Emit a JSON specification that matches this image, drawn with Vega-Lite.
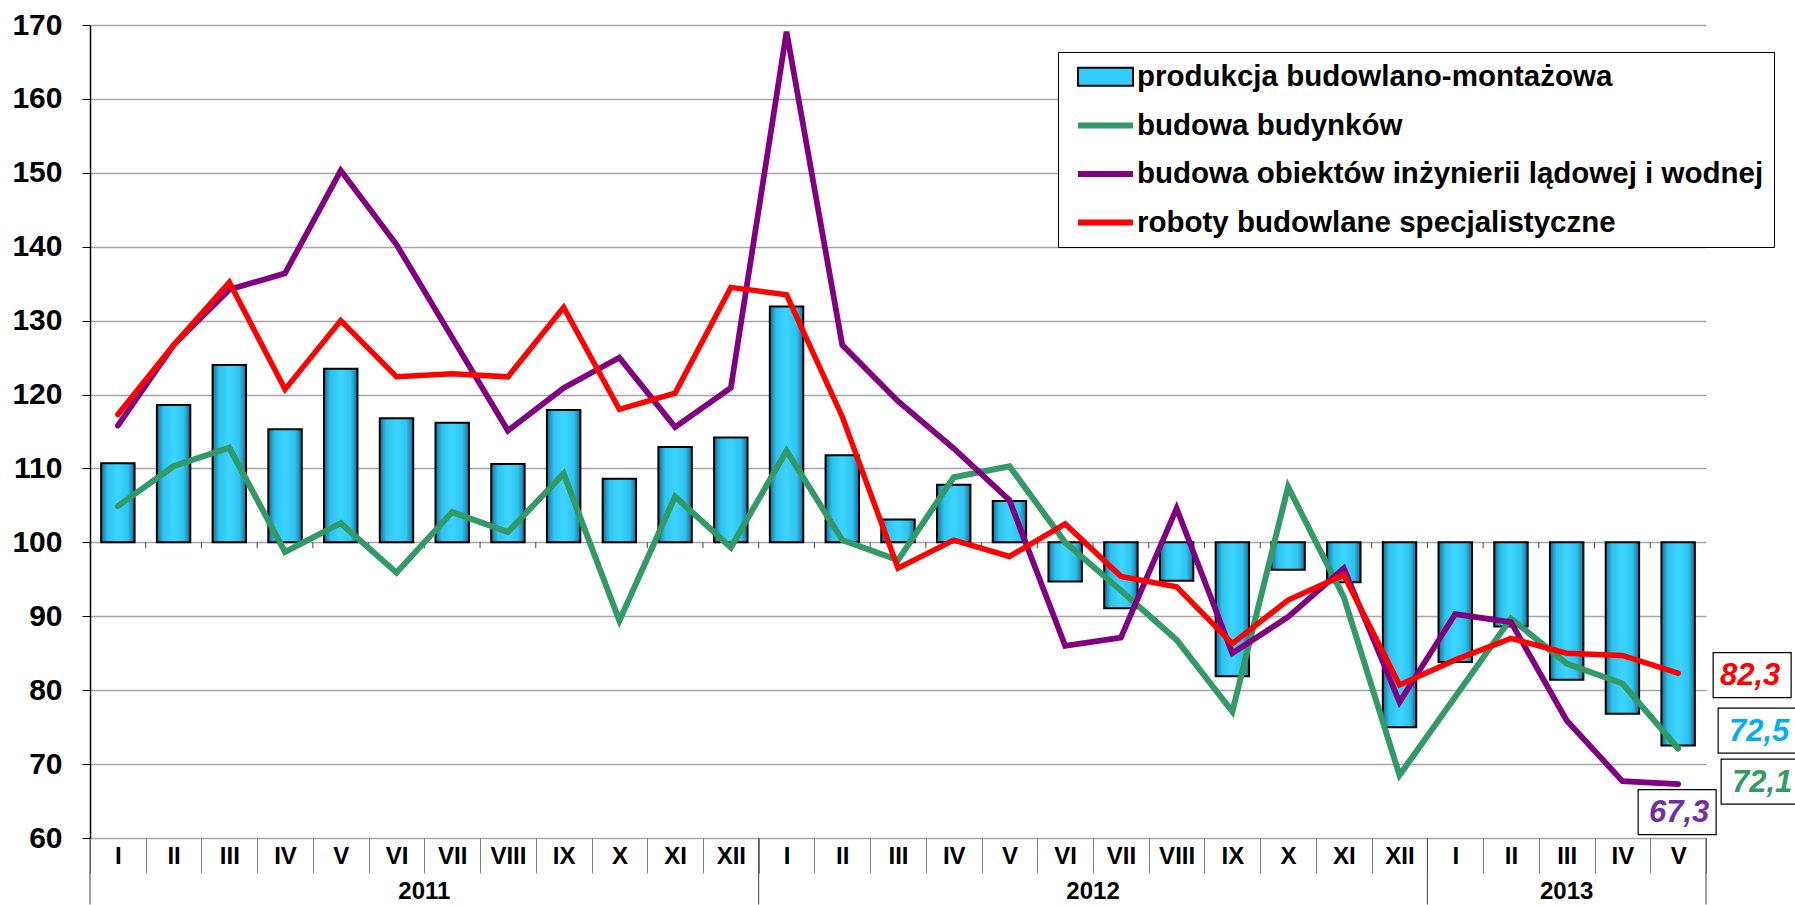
{
  "$schema": "https://vega.github.io/schema/vega-lite/v6.json",
  "width": 1616,
  "height": 813,
  "autosize": {"type": "none"},
  "padding": {"left": 90, "top": 25, "right": 89, "bottom": 67},
  "background": "white",
  "config": {"view": {"stroke": null}, "font": "Liberation Sans"},
  "datasets": {
    "main": [
      {"key": "I 2011", "produkcja budowlano-montażowa": 110.7, "budowa budynków": 104.9, "budowa obiektów inżynierii lądowej i wodnej": 115.8, "roboty budowlane specjalistyczne": 117.3},
      {"key": "II 2011", "produkcja budowlano-montażowa": 118.6, "budowa budynków": 110.3, "budowa obiektów inżynierii lądowej i wodnej": 126.7, "roboty budowlane specjalistyczne": 126.7},
      {"key": "III 2011", "produkcja budowlano-montażowa": 124.0, "budowa budynków": 112.8, "budowa obiektów inżynierii lądowej i wodnej": 134.2, "roboty budowlane specjalistyczne": 135.2},
      {"key": "IV 2011", "produkcja budowlano-montażowa": 115.3, "budowa budynków": 98.7, "budowa obiektów inżynierii lądowej i wodnej": 136.4, "roboty budowlane specjalistyczne": 120.7},
      {"key": "V 2011", "produkcja budowlano-montażowa": 123.5, "budowa budynków": 102.6, "budowa obiektów inżynierii lądowej i wodnej": 150.3, "roboty budowlane specjalistyczne": 130.0},
      {"key": "VI 2011", "produkcja budowlano-montażowa": 116.8, "budowa budynków": 95.9, "budowa obiektów inżynierii lądowej i wodnej": 140.3, "roboty budowlane specjalistyczne": 122.4},
      {"key": "VII 2011", "produkcja budowlano-montażowa": 116.2, "budowa budynków": 104.1, "budowa obiektów inżynierii lądowej i wodnej": 127.7, "roboty budowlane specjalistyczne": 122.8},
      {"key": "VIII 2011", "produkcja budowlano-montażowa": 110.6, "budowa budynków": 101.4, "budowa obiektów inżynierii lądowej i wodnej": 115.1, "roboty budowlane specjalistyczne": 122.4},
      {"key": "IX 2011", "produkcja budowlano-montażowa": 117.9, "budowa budynków": 109.3, "budowa obiektów inżynierii lądowej i wodnej": 120.9, "roboty budowlane specjalistyczne": 131.8},
      {"key": "X 2011", "produkcja budowlano-montażowa": 108.6, "budowa budynków": 89.4, "budowa obiektów inżynierii lądowej i wodnej": 125.0, "roboty budowlane specjalistyczne": 118.0},
      {"key": "XI 2011", "produkcja budowlano-montażowa": 112.9, "budowa budynków": 106.2, "budowa obiektów inżynierii lądowej i wodnej": 115.6, "roboty budowlane specjalistyczne": 120.2},
      {"key": "XII 2011", "produkcja budowlano-montażowa": 114.2, "budowa budynków": 99.3, "budowa obiektów inżynierii lądowej i wodnej": 120.9, "roboty budowlane specjalistyczne": 134.5},
      {"key": "I 2012", "produkcja budowlano-montażowa": 131.9, "budowa budynków": 112.4, "budowa obiektów inżynierii lądowej i wodnej": 169.1, "roboty budowlane specjalistyczne": 133.5},
      {"key": "II 2012", "produkcja budowlano-montażowa": 111.8, "budowa budynków": 100.3, "budowa obiektów inżynierii lądowej i wodnej": 126.7, "roboty budowlane specjalistyczne": 117.0},
      {"key": "III 2012", "produkcja budowlano-montażowa": 103.1, "budowa budynków": 97.6, "budowa obiektów inżynierii lądowej i wodnej": 119.1, "roboty budowlane specjalistyczne": 96.5},
      {"key": "IV 2012", "produkcja budowlano-montażowa": 107.8, "budowa budynków": 108.8, "budowa obiektów inżynierii lądowej i wodnej": 112.7, "roboty budowlane specjalistyczne": 100.3},
      {"key": "V 2012", "produkcja budowlano-montażowa": 105.6, "budowa budynków": 110.3, "budowa obiektów inżynierii lądowej i wodnej": 105.7, "roboty budowlane specjalistyczne": 98.1},
      {"key": "VI 2012", "produkcja budowlano-montażowa": 94.7, "budowa budynków": 100.0, "budowa obiektów inżynierii lądowej i wodnej": 86.0, "roboty budowlane specjalistyczne": 102.5},
      {"key": "VII 2012", "produkcja budowlano-montażowa": 91.1, "budowa budynków": 93.5, "budowa obiektów inżynierii lądowej i wodnej": 87.1, "roboty budowlane specjalistyczne": 95.4},
      {"key": "VIII 2012", "produkcja budowlano-montażowa": 94.8, "budowa budynków": 86.8, "budowa obiektów inżynierii lądowej i wodnej": 104.6, "roboty budowlane specjalistyczne": 94.0},
      {"key": "IX 2012", "produkcja budowlano-montażowa": 81.9, "budowa budynków": 77.1, "budowa obiektów inżynierii lądowej i wodnej": 85.0, "roboty budowlane specjalistyczne": 86.3},
      {"key": "X 2012", "produkcja budowlano-montażowa": 96.3, "budowa budynków": 107.5, "budowa obiektów inżynierii lądowej i wodnej": 89.9, "roboty budowlane specjalistyczne": 92.2},
      {"key": "XI 2012", "produkcja budowlano-montażowa": 94.6, "budowa budynków": 92.6, "budowa obiektów inżynierii lądowej i wodnej": 96.5, "roboty budowlane specjalistyczne": 95.6},
      {"key": "XII 2012", "produkcja budowlano-montażowa": 75.0, "budowa budynków": 68.5, "budowa obiektów inżynierii lądowej i wodnej": 78.4, "roboty budowlane specjalistyczne": 80.7},
      {"key": "I 2013", "produkcja budowlano-montażowa": 83.8, "budowa budynków": 79.1, "budowa obiektów inżynierii lądowej i wodnej": 90.3, "roboty budowlane specjalistyczne": 84.1},
      {"key": "II 2013", "produkcja budowlano-montażowa": 88.6, "budowa budynków": 89.7, "budowa obiektów inżynierii lądowej i wodnej": 89.2, "roboty budowlane specjalistyczne": 87.0},
      {"key": "III 2013", "produkcja budowlano-montażowa": 81.4, "budowa budynków": 83.6, "budowa obiektów inżynierii lądowej i wodnej": 75.9, "roboty budowlane specjalistyczne": 85.0},
      {"key": "IV 2013", "produkcja budowlano-montażowa": 76.8, "budowa budynków": 80.9, "budowa obiektów inżynierii lądowej i wodnej": 67.7, "roboty budowlane specjalistyczne": 84.7},
      {"key": "V 2013", "produkcja budowlano-montażowa": 72.5, "budowa budynków": 72.1, "budowa obiektów inżynierii lądowej i wodnej": 67.3, "roboty budowlane specjalistyczne": 82.3}
    ],
    "years": [
      {"key": "VI 2011", "year": "2011"},
      {"key": "VI 2012", "year": "2012"},
      {"key": "III 2013", "year": "2013"}
    ],
    "bounds": [
      {"key": "I 2011", "edge": "start"},
      {"key": "I 2012", "edge": "start"},
      {"key": "I 2013", "edge": "start"},
      {"key": "V 2013", "edge": "end"}
    ],
    "ends": [
      {"key": "V 2013", "series": "roboty budowlane specjalistyczne", "value": 82.3, "label": "82,3"},
      {"key": "V 2013", "series": "produkcja budowlano-montażowa", "value": 72.5, "label": "72,5"},
      {"key": "V 2013", "series": "budowa budynków", "value": 72.1, "label": "72,1"},
      {"key": "V 2013", "series": "budowa obiektów inżynierii lądowej i wodnej", "value": 67.3, "label": "67,3"}
    ]
  },
  "layer": [
    {
      "data": {"name": "main"},
      "mark": {
        "type": "bar",
        "width": {"band": 0.6},
        "stroke": "#000000",
        "strokeWidth": 2,
        "fill": {
          "gradient": "linear", "x1": 0, "x2": 1, "y1": 0, "y2": 0,
          "stops": [
            {"offset": 0, "color": "#166f92"},
            {"offset": 0.2, "color": "#2fc3f0"},
            {"offset": 0.5, "color": "#3dd5ff"},
            {"offset": 0.8, "color": "#2fc3f0"},
            {"offset": 1, "color": "#166f92"}
          ]
        }
      },
      "encoding": {
        "x": {
          "field": "key", "type": "ordinal", "sort": null, "title": null,
          "scale": {
            "domain": ["I 2011","II 2011","III 2011","IV 2011","V 2011","VI 2011","VII 2011","VIII 2011","IX 2011","X 2011","XI 2011","XII 2011","I 2012","II 2012","III 2012","IV 2012","V 2012","VI 2012","VII 2012","VIII 2012","IX 2012","X 2012","XI 2012","XII 2012","I 2013","II 2013","III 2013","IV 2013","V 2013"],
            "paddingInner": 0, "paddingOuter": 0
          },
          "axis": {
            "labelExpr": "datum.value ? split(datum.value, ' ')[0] : ''",
            "labelAngle": 0,
            "labelFont": "Liberation Sans",
            "labelFontSize": 24,
            "labelFontWeight": "bold",
            "labelColor": "#000000",
            "labelBaseline": "middle",
            "labelPadding": -17,
            "tickBand": "extent",
            "tickSize": 35,
            "tickColor": "#808080",
            "tickWidth": 1,
            "domain": false,
            "grid": false
          }
        },
        "y": {
          "field": "produkcja budowlano-montażowa", "type": "quantitative", "title": null,
          "scale": {"domain": [60, 170], "nice": false, "zero": false},
          "axis": {
            "values": [60, 70, 80, 90, 100, 110, 120, 130, 140, 150, 160, 170],
            "labelFont": "Liberation Sans",
            "labelFontSize": 30,
            "labelFontWeight": "bold",
            "labelColor": "#000000",
            "labelPadding": 20,
            "tickSize": 8,
            "tickColor": "#000000",
            "domainColor": "#000000",
            "domainWidth": 1.5,
            "gridColor": "#a6a6a6",
            "gridWidth": 1.5
          }
        },
        "y2": {"datum": 100}
      }
    },
    {
      "data": {"name": "main"},
      "mark": {"type": "bar", "opacity": 0, "width": {"band": 0.6}},
      "encoding": {
        "x": {"field": "key", "type": "ordinal", "sort": null, "title": null},
        "y": {"field": "produkcja budowlano-montażowa", "type": "quantitative", "title": null},
        "y2": {"datum": 100},
        "fill": {
          "datum": "produkcja budowlano-montażowa", "type": "nominal",
          "scale": {"domain": ["produkcja budowlano-montażowa"], "range": ["#33ccff"]},
          "legend": {
            "title": null,
            "orient": "none",
            "legendX": 968,
            "legendY": 27,
            "padding": 10,
            "zindex": 2,
            "symbolType": "M-2.34,-0.766H2.34V0.766H-2.34Z",
            "symbolSize": 552,
            "symbolStrokeColor": "#000000",
            "symbolStrokeWidth": 2,
            "symbolOpacity": 1,
            "symbolOffset": 22.75,
            "labelFont": "Liberation Sans",
            "labelFontSize": 29.5,
            "labelFontWeight": "bold",
            "labelLimit": 1000,
            "labelOffset": 16.5,
            "labelOpacity": 0
          }
        }
      }
    },
    {
      "data": {"name": "main"},
      "mark": {"type": "rule", "color": "#404040", "strokeWidth": 1},
      "encoding": {
        "x": {"field": "key", "type": "ordinal", "sort": null, "title": null, "bandPosition": 0},
        "y": {"datum": 100},
        "y2": {"datum": 99.2}
      }
    },
    {
      "data": {"name": "main"},
      "transform": [
        {"fold": ["budowa budynków", "budowa obiektów inżynierii lądowej i wodnej", "roboty budowlane specjalistyczne"], "as": ["series", "value"]}
      ],
      "mark": {"type": "line", "strokeCap": "round"},
      "encoding": {
        "x": {"field": "key", "type": "ordinal", "sort": null, "title": null},
        "y": {"field": "value", "type": "quantitative", "title": null},
        "strokeWidth": {
          "field": "series", "type": "nominal", "legend": null,
          "scale": {
            "domain": ["budowa budynków", "budowa obiektów inżynierii lądowej i wodnej", "roboty budowlane specjalistyczne"],
            "range": [6, 5.5, 7]
          }
        },
        "color": {
          "field": "series", "type": "nominal",
          "scale": {
            "domain": ["produkcja budowlano-montażowa", "budowa budynków", "budowa obiektów inżynierii lądowej i wodnej", "roboty budowlane specjalistyczne"],
            "range": ["transparent", "#339966", "#800080", "#ff0000"]
          },
          "legend": {
            "title": null,
            "orient": "none",
            "legendX": 968,
            "legendY": 27,
            "padding": 10,
            "zindex": 1,
            "symbolOffset": 22.5,
            "strokeColor": "#000000",
            "fillColor": "#ffffff",
            "symbolType": "M-2.34,0H2.34",
            "symbolSize": 552,
            "symbolStrokeWidth": 6,
            "labelFont": "Liberation Sans",
            "labelFontSize": 29.5,
            "labelFontWeight": "bold",
            "labelColor": "#000000",
            "labelLimit": 1000,
            "labelOffset": 16.5,
            "rowPadding": 18.5
          }
        }
      }
    },
    {
      "data": {"name": "bounds"},
      "transform": [{"filter": "datum.edge === 'start'"}],
      "mark": {"type": "rule", "color": "#404040", "strokeWidth": 1},
      "encoding": {
        "x": {"field": "key", "type": "ordinal", "sort": null, "title": null, "bandPosition": 0},
        "y": {"datum": 60},
        "y2": {"datum": 51}
      }
    },
    {
      "data": {"name": "bounds"},
      "transform": [{"filter": "datum.edge === 'end'"}],
      "mark": {"type": "rule", "color": "#404040", "strokeWidth": 1},
      "encoding": {
        "x": {"field": "key", "type": "ordinal", "sort": null, "title": null, "bandPosition": 1},
        "y": {"datum": 60},
        "y2": {"datum": 51}
      }
    },
    {
      "data": {"name": "years"},
      "transform": [{"filter": "datum.year !== '2013'"}],
      "mark": {"type": "text", "font": "Liberation Sans", "fontSize": 24, "fontWeight": "bold", "color": "#000000", "baseline": "middle", "align": "center", "dy": 54},
      "encoding": {
        "x": {"field": "key", "type": "ordinal", "sort": null, "title": null, "bandPosition": 1},
        "y": {"datum": 60},
        "text": {"field": "year"}
      }
    },
    {
      "data": {"name": "years"},
      "transform": [{"filter": "datum.year === '2013'"}],
      "mark": {"type": "text", "font": "Liberation Sans", "fontSize": 24, "fontWeight": "bold", "color": "#000000", "baseline": "middle", "align": "center", "dy": 54},
      "encoding": {
        "x": {"field": "key", "type": "ordinal", "sort": null, "title": null, "bandPosition": 0.5},
        "y": {"datum": 60},
        "text": {"field": "year"}
      }
    },
    {
      "data": {"name": "ends"},
      "transform": [{"filter": "datum.label === '82,3'"}],
      "encoding": {
        "x": {"field": "key", "type": "ordinal", "sort": null, "title": null},
        "y": {"field": "value", "type": "quantitative", "title": null}
      },
      "layer": [
        {"mark": {"type": "point", "shape": "M-1,-0.577H1V0.577H-1Z", "size": 6084, "filled": true, "fill": "#ffffff", "stroke": "#000000", "strokeWidth": 1.2, "opacity": 1, "xOffset": 74, "yOffset": 2}},
        {"mark": {"type": "text", "font": "Liberation Sans", "fontSize": 31, "fontWeight": "bold", "fontStyle": "italic", "color": "#ff0000", "baseline": "middle", "align": "center", "dx": 72, "dy": 3}, "encoding": {"text": {"field": "label"}}}
      ]
    },
    {
      "data": {"name": "ends"},
      "transform": [{"filter": "datum.label === '72,5'"}],
      "encoding": {
        "x": {"field": "key", "type": "ordinal", "sort": null, "title": null},
        "y": {"field": "value", "type": "quantitative", "title": null}
      },
      "layer": [
        {"mark": {"type": "point", "shape": "M-1,-0.577H1V0.577H-1Z", "size": 6084, "filled": true, "fill": "#ffffff", "stroke": "#000000", "strokeWidth": 1.2, "opacity": 1, "xOffset": 79, "yOffset": -15}},
        {"mark": {"type": "text", "font": "Liberation Sans", "fontSize": 31, "fontWeight": "bold", "fontStyle": "italic", "color": "#00b0f0", "baseline": "middle", "align": "center", "dx": 81, "dy": -14}, "encoding": {"text": {"field": "label"}}}
      ]
    },
    {
      "data": {"name": "ends"},
      "transform": [{"filter": "datum.label === '72,1'"}],
      "encoding": {
        "x": {"field": "key", "type": "ordinal", "sort": null, "title": null},
        "y": {"field": "value", "type": "quantitative", "title": null}
      },
      "layer": [
        {"mark": {"type": "point", "shape": "M-1,-0.577H1V0.577H-1Z", "size": 6084, "filled": true, "fill": "#ffffff", "stroke": "#000000", "strokeWidth": 1.2, "opacity": 1, "xOffset": 82, "yOffset": 33}},
        {"mark": {"type": "text", "font": "Liberation Sans", "fontSize": 31, "fontWeight": "bold", "fontStyle": "italic", "color": "#339966", "baseline": "middle", "align": "center", "dx": 84, "dy": 34}, "encoding": {"text": {"field": "label"}}}
      ]
    },
    {
      "data": {"name": "ends"},
      "transform": [{"filter": "datum.label === '67,3'"}],
      "encoding": {
        "x": {"field": "key", "type": "ordinal", "sort": null, "title": null},
        "y": {"field": "value", "type": "quantitative", "title": null}
      },
      "layer": [
        {"mark": {"type": "point", "shape": "M-1,-0.577H1V0.577H-1Z", "size": 6084, "filled": true, "fill": "#ffffff", "stroke": "#000000", "strokeWidth": 1.2, "opacity": 1, "xOffset": -1, "yOffset": 28}},
        {"mark": {"type": "text", "font": "Liberation Sans", "fontSize": 31, "fontWeight": "bold", "fontStyle": "italic", "color": "#7030a0", "baseline": "middle", "align": "center", "dx": 1, "dy": 29}, "encoding": {"text": {"field": "label"}}}
      ]
    }
  ]
}
